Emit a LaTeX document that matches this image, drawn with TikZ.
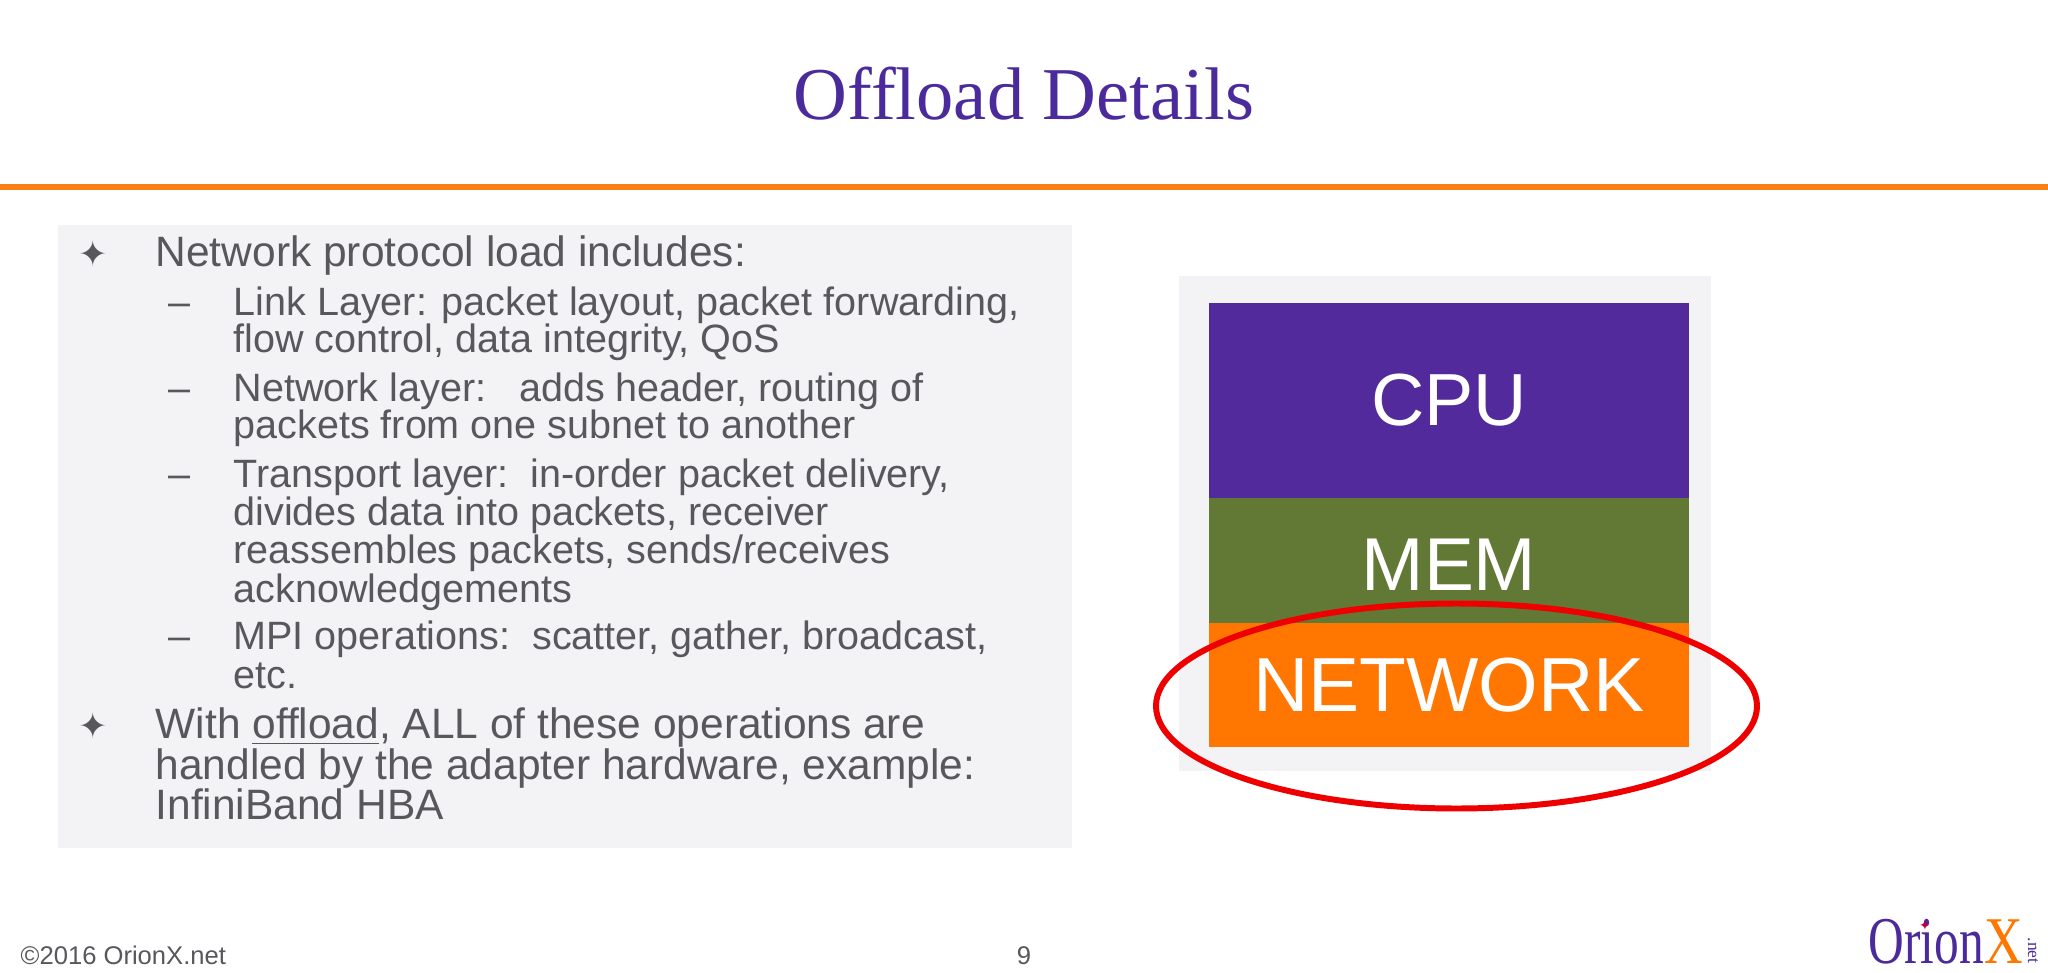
\documentclass[tikz,border=0pt]{standalone}
\usepackage{fontspec}
\setmainfont{Liberation Sans}
\newfontfamily\serifface{Liberation Serif}
\newfontfamily\symbface{DejaVu Sans}
\definecolor{titlepurple}{HTML}{4B2A9B}
\definecolor{ruleorange}{HTML}{FA8111}
\definecolor{panelgray}{HTML}{F3F2F5}
\definecolor{textgray}{HTML}{58585C}
\definecolor{cpupurple}{HTML}{522A9B}
\definecolor{memgreen}{HTML}{627935}
\definecolor{netorange}{HTML}{FF7600}
\definecolor{ringred}{HTML}{EE0000}
\tikzset{
  line1/.style={anchor=base west, inner sep=0pt, text=textgray, font=\fontsize{12.08pt}{13pt}\selectfont},
  line2/.style={anchor=base west, inner sep=0pt, text=textgray, font=\fontsize{11.24pt}{12pt}\selectfont},
  mark1/.style={inner sep=0pt, text=textgray, font=\symbface\fontsize{10pt}{11pt}\selectfont},
  layer/.style={inner sep=0pt, minimum width=4.80cm, text=white},
  foot/.style={anchor=base west, inner sep=0pt, text=textgray, font=\fontsize{7.28pt}{8pt}\selectfont}
}
\begin{document}
\begin{tikzpicture}[x=0.01cm, y=-0.01cm]
    \useasboundingbox (0,0) rectangle (2048,973);

    % Title and rule
    \node (title) [inner sep=0pt, text=titlepurple, font=\serifface\fontsize{21.2pt}{22pt}\selectfont] at (1024,94) {Offload Details};
    \draw[ruleorange, line width=1.7pt] (0,187) -- (2048,187);

    % Text panel
    \fill[panelgray] (58,225) rectangle (1072,848);

    \node (markA) [mark1] at (93,254) {✦};
    \node (lineA) [line1] at (155,267) {Network protocol load includes:};

    \node (dashB) [line2] at (168,315) {–};
    \node (lineB) [line2] at (233,315) {Link Layer: packet layout, packet forwarding,};
    \node (lineBb) [line2] at (233,353) {flow control, data integrity, QoS};

    \node (dashC) [line2] at (168,401) {–};
    \node (lineC) [line2] at (233,401) {Network layer:\ \ \ adds header, routing of};
    \node (lineCb) [line2] at (233,439) {packets from one subnet to another};

    \node (dashD) [line2] at (168,487) {–};
    \node (lineD) [line2] at (233,487) {Transport layer:\ \ in-order packet delivery,};
    \node (lineDb) [line2] at (233,525) {divides data into packets, receiver};
    \node (lineDc) [line2] at (233,563) {reassembles packets, sends/receives};
    \node (lineDd) [line2] at (233,602) {acknowledgements};

    \node (dashE) [line2] at (168,649) {–};
    \node (lineE) [line2] at (233,649) {MPI operations:\ \ scatter, gather, broadcast,};
    \node (lineEb) [line2] at (233,688) {etc.};

    \node (markF) [mark1] at (93,726) {✦};
    \node (lineF) [line1] at (155,738) {With \underline{offload}, ALL of these operations are};
    \node (lineFb) [line1] at (155,779) {handled by the adapter hardware, example:};
    \node (lineFc) [line1] at (155,819) {InfiniBand HBA};

    % Stack of layers
    \fill[panelgray] (1179,276) rectangle (1711,771);
    \node (cpu) [layer, fill=cpupurple, minimum height=1.95cm, font=\fontsize{21pt}{22pt}\selectfont] at (1449,400.5) {CPU};
    \node (mem) [layer, fill=memgreen, minimum height=1.25cm, text height=0.596cm, font=\fontsize{21.3pt}{22pt}\selectfont] at (1449,560.5) {MEM};
    \node (network) [layer, fill=netorange, minimum height=1.24cm, font=\fontsize{21.8pt}{22pt}\selectfont] at (1449,685) {NETWORK};

    % Red ring
    \draw[ringred, line width=1.7pt] (1456.5,706) ellipse (300.5 and 102.5);

    % Footer
    \node (copy) [foot] at (20,964) {©2016 OrionX.net};
    \node (page) [foot, anchor=base] at (1024,964) {9};

    % Logo
    \node (orion) [anchor=base west, inner sep=0pt, text=titlepurple, font=\serifface\fontsize{19pt}{20pt}\selectfont, xscale=0.74] at (1868,963) {Orion};
    \node (logox) [anchor=base east, inner sep=0pt, text=netorange, font=\serifface\fontsize{19pt}{20pt}\selectfont, xscale=0.8] at (2024,963) {X};
    \node (logonet) [anchor=base west, inner sep=0pt, text=titlepurple, rotate=-90, font=\serifface\fontsize{5pt}{6pt}\selectfont] at (2028,937) {.net};
    \node (logostar) [inner sep=0pt, text=purple, font=\symbface\fontsize{4pt}{5pt}\selectfont] at (1925,925) {✦};
\end{tikzpicture}
\end{document}
